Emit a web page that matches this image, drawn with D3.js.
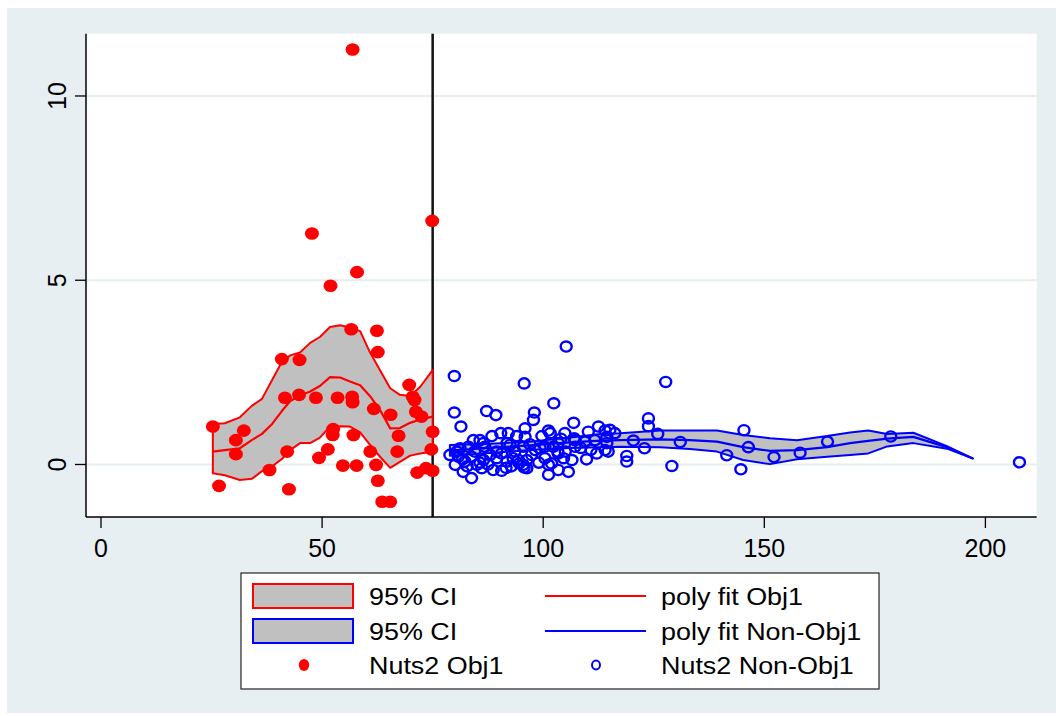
<!DOCTYPE html>
<html>
<head>
<meta charset="utf-8">
<script src="https://cdn.jsdelivr.net/npm/d3@7"></script>
<style>
  html, body { margin: 0; padding: 0; background: #ffffff; }
  svg { display: block; }
  text { font-family: "Liberation Sans", Arial, sans-serif; fill: #000; }
</style>
</head>
<body>
<svg id="chart" width="1056" height="716"></svg>
<script>
// ---- Nuts2 regions, Objective 1 (x, y) ----
const obj1X = [25.3, 26.7, 30.5, 32.3, 30.5, 38.1, 40.9, 44.9, 41.6, 44.8, 48.6, 42.1, 42.5, 49.3, 51.3,
  52.5, 52.4, 56.6, 53.5, 56.8, 56.9, 57.1, 54.7, 57.8, 62.4, 62.6, 61.7, 60.9, 62.2, 62.6,
  63.6, 65.4, 65.5, 67.3, 67.0, 69.7, 70.5, 70.9, 71.2, 72.5, 75.0, 74.7, 71.5, 73.5, 75.0,
  56.9, 47.7, 74.9, 57.9, 51.9];
const obj1Y = [1.03, -0.58, 0.66, 0.92, 0.28, -0.15, 2.86, 2.84, 1.81, 1.89, 1.81, 0.35, -0.67, 0.18, 0.41,
  0.96, 0.80, 3.67, 1.81, 1.84, 1.69, 0.80, -0.03, -0.03, 3.63, 3.05, 1.51, 0.35, -0.01, -0.44,
  -1.01, -1.01, 1.35, 0.78, 0.35, 2.16, 1.84, 1.75, 1.43, 1.30, 0.89, 0.41, -0.22, -0.10, -0.17,
  11.26, 6.27, 6.61, 5.22, 4.85];

// ---- Nuts2 regions, non-Objective 1 (x, y) ----
const nonObjX = [79.9, 105.2, 95.7, 79.9, 81.4, 87.2, 89.3, 98.0, 97.8, 95.9, 102.4, 106.9, 123.8, 123.8, 127.7,
  125.9, 120.4, 122.9, 118.9, 118.9, 129.1, 131.0, 141.5, 145.4, 146.4, 144.7, 152.2, 158.1, 164.3, 178.6,
  207.7, 88.4, 90.4, 92.1, 94.0, 85.7, 84.2, 83.1, 78.9, 80.8, 80.1, 82.3, 83.8, 85.0, 86.5,
  88.0, 89.5, 90.6, 91.8, 93.2, 94.4, 95.5, 93.6, 95.5, 95.9, 81.9, 83.8, 86.1, 88.7, 90.6,
  86.8, 92.5, 81.2, 101.2, 99.7, 101.6, 104.9, 110.2, 112.5, 114.0, 115.1, 107.2, 109.5, 111.7, 114.0,
  109.8, 106.5, 103.4, 103.4, 100.4, 98.2, 96.3, 97.4, 100.4, 101.2, 103.4, 105.7, 101.2, 101.9, 96.3,
  112.1, 114.4, 107.2, 116.2, 114.4, 114.7, 81.8, 85.7, 91.6, 94.6, 95.7, 89.5, 91.8, 86.5, 107.0,
  99.3, 102.3, 103.3, 104.6, 105.0, 80.5, 82.8, 84.5, 87.5, 92.8, 97.0, 99.0, 104.0, 108.5, 110.8];
const nonObjY = [2.40, 3.20, 2.20, 1.41, 1.03, 1.45, 1.34, 1.41, 1.21, 0.98, 1.66, 1.13, 1.04, 1.25, 2.24,
  0.83, 0.65, 0.44, 0.23, 0.08, -0.04, 0.61, 0.25, 0.93, 0.47, -0.13, 0.20, 0.32, 0.62, 0.76,
  0.06, 0.77, 0.85, 0.85, 0.77, 0.66, 0.66, 0.48, 0.26, 0.21, -0.01, 0.08, 0.21, -0.01, 0.12,
  0.26, 0.17, 0.30, 0.08, 0.17, 0.12, -0.01, 0.35, 0.48, 0.75, -0.20, -0.37, -0.10, -0.15, -0.17,
  0.48, 0.53, 0.44, 0.92, 0.77, 0.85, 0.85, 0.89, 1.03, 0.92, 0.94, 0.66, 0.62, 0.66, 0.39,
  0.14, 0.12, 0.30, 0.58, 0.48, 0.39, 0.12, 0.26, 0.17, -0.01, -0.15, -0.20, -0.28, 0.03, -0.10,
  0.30, 0.58, 0.48, 0.85, 0.75, 0.35, 0.14, 0.05, -0.09, 0.03, -0.08, 0.35, 0.58, 0.58, 0.71,
  0.44, 0.48, 0.35, 0.17, 0.35, 0.35, -0.05, 0.35, 0.00, -0.05, 0.55, 0.05, 0.70, 0.45, 0.40];

// ---- Local polynomial fit with 95% CI, Objective 1 ----
const fitObjX  = [25.3, 28.0, 31.4, 34.1, 36.4, 38.7, 40.9, 42.8, 45.0, 47.3, 49.5, 51.8, 54.1, 56.3, 58.6,
  60.8, 63.1, 65.4, 67.6, 69.9, 72.2, 75.0];
const fitObjLo = [-0.24, -0.29, -0.42, -0.39, -0.18, -0.05, 0.15, 0.39, 0.58, 0.58, 0.73, 1.03, 1.04, 1.03, 0.87,
  0.54, 0.21, -0.09, 0.07, 0.24, 0.30, 0.35];
const fitObjMid = [0.35, 0.39, 0.44, 0.66, 0.83, 1.10, 1.45, 1.72, 1.87, 1.98, 2.13, 2.37, 2.36, 2.25, 2.15,
  1.86, 1.48, 0.98, 0.99, 1.13, 1.22, 1.30];
const fitObjHi = [1.10, 1.12, 1.28, 1.59, 1.78, 2.29, 2.78, 2.96, 3.04, 3.30, 3.46, 3.73, 3.78, 3.72, 3.62,
  3.05, 2.56, 2.07, 1.89, 1.86, 2.11, 2.56];

// ---- Local polynomial fit with 95% CI, non-Objective 1 ----
const fitNonX  = [78.9, 88.0, 97.0, 106.1, 112.9, 117.4, 126.4, 133.2, 139.3, 145.2, 151.3, 157.4, 164.2, 169.4,
  173.5, 177.8, 183.7, 191.3, 197.2];
const fitNonLo = [0.24, 0.31, 0.39, 0.45, 0.47, 0.48, 0.47, 0.42, 0.35, 0.12, 0.01, 0.14, 0.21, 0.26,
  0.30, 0.49, 0.58, 0.43, 0.16];
const fitNonMid = [0.38, 0.45, 0.52, 0.60, 0.65, 0.66, 0.68, 0.66, 0.62, 0.47, 0.37, 0.39, 0.47, 0.58,
  0.64, 0.70, 0.75, 0.47, 0.16];
const fitNonHi = [0.53, 0.56, 0.62, 0.73, 0.83, 0.85, 0.92, 0.92, 0.92, 0.80, 0.71, 0.66, 0.77, 0.87,
  0.92, 0.83, 0.86, 0.50, 0.16];

// ---- Axes ----
const xTicks = [0, 50, 100, 150, 200];
const yTicks = [0, 5, 10];
const cutoff = 75;

const legendItems = [
  { label: "95% CI", kind: "area", color: "#ff0000" },
  { label: "poly fit Obj1", kind: "line", color: "#ff0000" },
  { label: "95% CI", kind: "area", color: "#0000ff" },
  { label: "poly fit Non-Obj1", kind: "line", color: "#0000ff" },
  { label: "Nuts2 Obj1", kind: "dot", color: "#ff0000" },
  { label: "Nuts2 Non-Obj1", kind: "ring", color: "#0000ff" }
];

const svg = d3.select("#chart");
const plot = { left: 86, right: 1036.7, top: 33.7, bottom: 517 };

// outer graph region
svg.append("rect").attr("x", 7).attr("y", 8).attr("width", 1049).attr("height", 705)
  .attr("fill", "#e8eff2");
svg.append("rect").attr("x", plot.left).attr("y", plot.top)
  .attr("width", plot.right - plot.left).attr("height", plot.bottom - plot.top)
  .attr("fill", "#ffffff");

const x = d3.scaleLinear().domain([-3.39, 211.6]).range([plot.left, plot.right]);
const y = d3.scaleLinear().domain([-1.425, 11.69]).range([plot.bottom, plot.top]);

// gridlines
svg.append("g").selectAll("line").data(yTicks).join("line")
  .attr("x1", plot.left).attr("x2", plot.right)
  .attr("y1", d => y(d)).attr("y2", d => y(d))
  .attr("stroke", "#e4edf0").attr("stroke-width", 2);

// cutoff line
svg.append("line")
  .attr("x1", x(cutoff)).attr("x2", x(cutoff))
  .attr("y1", plot.top).attr("y2", plot.bottom)
  .attr("stroke", "#111").attr("stroke-width", 2.5);

function band(xs, lo, mid, hi, color) {
  const rows = xs.map((v, i) => ({ x: v, lo: lo[i], mid: mid[i], hi: hi[i] }));
  const area = d3.area().x(d => x(d.x)).y0(d => y(d.lo)).y1(d => y(d.hi));
  svg.append("path").datum(rows).attr("d", area)
    .attr("fill", "#c0c0c0").attr("stroke", color).attr("stroke-width", 2)
    .attr("stroke-linejoin", "round");
  const line = d3.line().x(d => x(d.x)).y(d => y(d.mid));
  svg.append("path").datum(rows).attr("d", line)
    .attr("fill", "none").attr("stroke", color).attr("stroke-width", 2.2)
    .attr("stroke-linejoin", "round");
}
band(fitObjX, fitObjLo, fitObjMid, fitObjHi, "#ff0000");
band(fitNonX, fitNonLo, fitNonMid, fitNonHi, "#0000ff");

// scatter
svg.append("g").selectAll("ellipse").data(obj1X.map((v, i) => [v, obj1Y[i]])).join("ellipse")
  .attr("cx", d => x(d[0])).attr("cy", d => y(d[1]))
  .attr("rx", 7).attr("ry", 6.3).attr("fill", "#ff0000");
svg.append("g").selectAll("ellipse").data(nonObjX.map((v, i) => [v, nonObjY[i]])).join("ellipse")
  .attr("cx", d => x(d[0])).attr("cy", d => y(d[1]))
  .attr("rx", 5.5).attr("ry", 5.1).attr("fill", "none")
  .attr("stroke", "#0000ff").attr("stroke-width", 2.4);

// axes lines
svg.append("line").attr("x1", plot.left).attr("x2", plot.left)
  .attr("y1", plot.top).attr("y2", plot.bottom).attr("stroke", "#000").attr("stroke-width", 1.5);
svg.append("line").attr("x1", plot.left).attr("x2", plot.right)
  .attr("y1", plot.bottom).attr("y2", plot.bottom).attr("stroke", "#000").attr("stroke-width", 1.5);

// x ticks
const gx = svg.append("g");
gx.selectAll("line").data(xTicks).join("line")
  .attr("x1", d => x(d)).attr("x2", d => x(d))
  .attr("y1", plot.bottom).attr("y2", plot.bottom + 11)
  .attr("stroke", "#000").attr("stroke-width", 1.3);
gx.selectAll("text").data(xTicks).join("text")
  .attr("x", d => x(d)).attr("y", 557)
  .attr("text-anchor", "middle").attr("font-size", 25)
  .text(d => d);

// y ticks
const gy = svg.append("g");
gy.selectAll("line").data(yTicks).join("line")
  .attr("x1", plot.left - 11).attr("x2", plot.left)
  .attr("y1", d => y(d)).attr("y2", d => y(d))
  .attr("stroke", "#000").attr("stroke-width", 1.3);
gy.selectAll("text").data(yTicks).join("text")
  .attr("transform", d => `translate(66,${y(d)}) rotate(-90)`)
  .attr("text-anchor", "middle").attr("font-size", 25)
  .text(d => d);

// legend
const lg = svg.append("g");
lg.append("rect").attr("x", 241).attr("y", 573).attr("width", 638).attr("height", 116)
  .attr("fill", "#ffffff").attr("stroke", "#333").attr("stroke-width", 1.3);
const colX = [253, 545];
const textX = [369, 661];
const rowY = [596, 631, 665];
legendItems.forEach((it, i) => {
  const c = i % 2, r = Math.floor(i / 2);
  const cy = rowY[r];
  const kx = colX[c];
  if (it.kind === "area") {
    lg.append("rect").attr("x", kx).attr("y", cy - 12).attr("width", 100).attr("height", 24)
      .attr("fill", "#c0c0c0").attr("stroke", it.color).attr("stroke-width", 2);
  } else if (it.kind === "line") {
    lg.append("line").attr("x1", kx).attr("x2", kx + 101).attr("y1", cy).attr("y2", cy)
      .attr("stroke", it.color).attr("stroke-width", 2.2);
  } else if (it.kind === "dot") {
    lg.append("ellipse").attr("cx", kx + 51).attr("cy", cy).attr("rx", 5.2).attr("ry", 6)
      .attr("fill", it.color);
  } else {
    lg.append("ellipse").attr("cx", kx + 51).attr("cy", cy).attr("rx", 4).attr("ry", 4.4)
      .attr("fill", "none").attr("stroke", it.color).attr("stroke-width", 2);
  }
  lg.append("text")
    .attr("transform", `translate(${textX[c]},${cy + 9}) scale(1.17,1)`)
    .attr("font-size", 23)
    .text(it.label);
});
</script>
</body>
</html>
